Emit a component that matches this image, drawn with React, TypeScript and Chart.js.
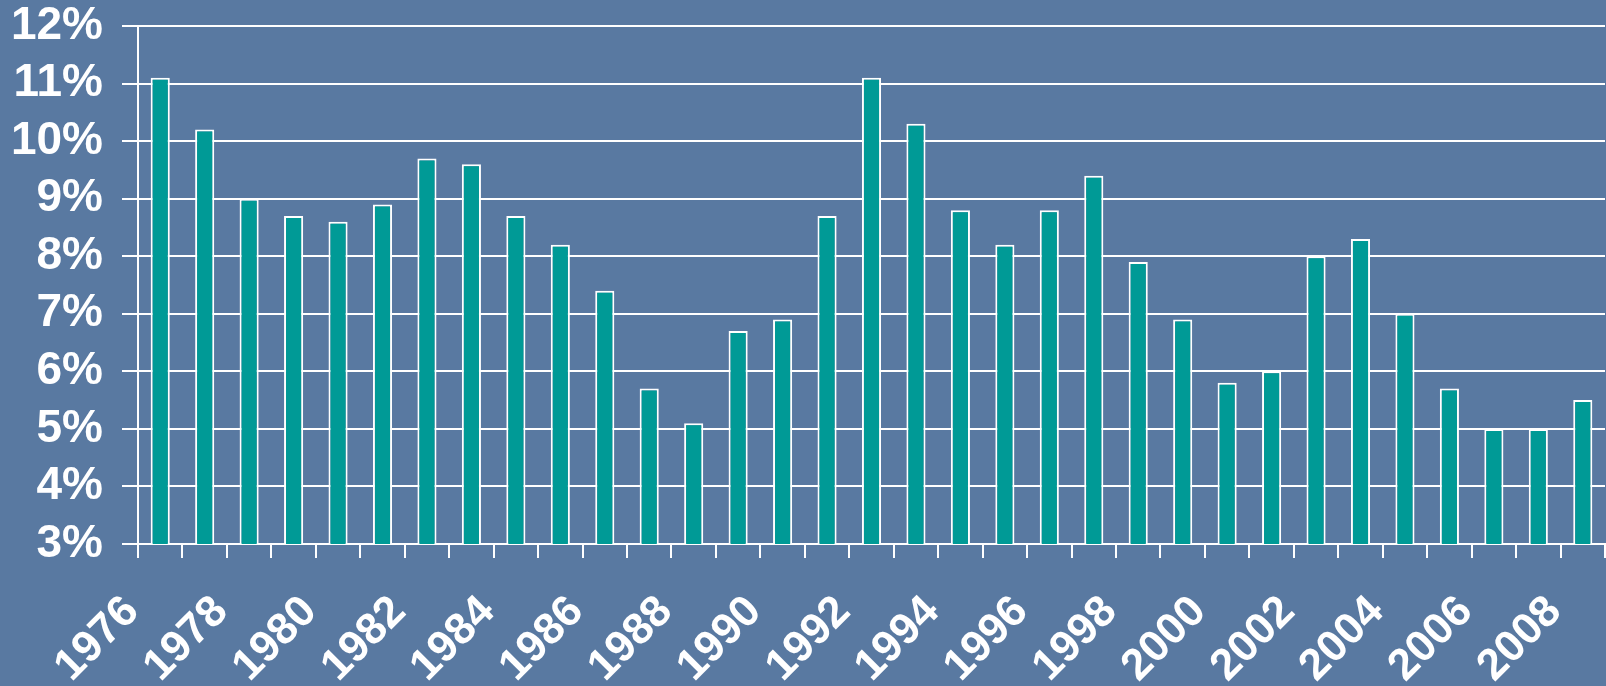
import { useEffect, useRef } from 'react';
import { Chart, registerables } from 'chart.js';

Chart.register(...registerables);

const years = [
  '1976', '1977', '1978', '1979', '1980', '1981', '1982', '1983', '1984', '1985', '1986',
  '1987', '1988', '1989', '1990', '1991', '1992', '1993', '1994', '1995', '1996', '1997',
  '1998', '1999', '2000', '2001', '2002', '2003', '2004', '2005', '2006', '2007', '2008',
];

const rates = [
  11.1, 10.2, 9.0, 8.7, 8.6, 8.9, 9.7, 9.6, 8.7, 8.2, 7.4,
  5.7, 5.1, 6.7, 6.9, 8.7, 11.1, 10.3, 8.8, 8.2, 8.8, 9.4,
  7.9, 6.9, 5.8, 6.0, 8.0, 8.3, 7.0, 5.7, 5.0, 5.0, 5.5,
];

const yMin = 3;
const yMax = 12;

const bgPlugin = {
  id: 'bgFill',
  beforeDraw(chart: any) {
    const { ctx, width, height } = chart;
    ctx.save();
    ctx.fillStyle = '#5979a1';
    ctx.fillRect(0, 0, width, height);
    ctx.restore();
  },
};

export default function App() {
  const ref = useRef<HTMLCanvasElement>(null);

  useEffect(() => {
    document.body.style.margin = '0';
    const yFont = { family: '"Liberation Sans", Arial, sans-serif', size: 46, weight: 'bold' as const };
    const xFont = { family: '"Liberation Sans", Arial, sans-serif', size: 44, weight: 'bold' as const };
    const chart = new Chart(ref.current!, {
      type: 'bar',
      data: {
        labels: years,
        datasets: [
          {
            data: rates,
            backgroundColor: '#009a96',
            borderColor: '#ffffff',
            borderWidth: 2,
            barPercentage: 0.43,
            categoryPercentage: 1,
          },
        ],
      },
      options: {
        animation: false,
        responsive: false,
        maintainAspectRatio: false,
        layout: { padding: { top: 26, right: 1, left: 0, bottom: 0 } },
        plugins: {
          legend: { display: false },
          tooltip: { enabled: false },
        },
        scales: {
          x: {
            grid: {
              offset: true,
              drawOnChartArea: false,
              color: '#ffffff',
              lineWidth: 2,
              tickLength: 14,
            },
            border: { color: '#ffffff', width: 2 },
            ticks: {
              color: '#ffffff',
              font: xFont,
              autoSkip: false,
              maxRotation: 45,
              minRotation: 45,
              padding: 28,
              labelOffset: -28,
              callback: (_v: any, i: number) => (i % 2 === 0 ? years[i] : ''),
            },
            afterFit: (scale: any) => {
              scale.height = 142;
              scale.paddingLeft = 0;
              scale.paddingRight = 0;
            },
          },
          y: {
            min: yMin,
            max: yMax,
            grid: {
              color: '#ffffff',
              lineWidth: 2,
              tickLength: 16,
            },
            border: { color: '#ffffff', width: 2 },
            ticks: {
              stepSize: 1,
              autoSkip: false,
              color: '#ffffff',
              font: yFont,
              padding: 19,
              callback: (v: any) => `${v}%`,
            },
            afterFit: (scale: any) => {
              scale.width = 138;
              scale.paddingTop = 0;
              scale.paddingBottom = 0;
            },
          },
        },
      },
      plugins: [bgPlugin],
    });
    return () => chart.destroy();
  }, []);

  return <canvas ref={ref} width={1606} height={686} style={{ display: 'block' }} />;
}
